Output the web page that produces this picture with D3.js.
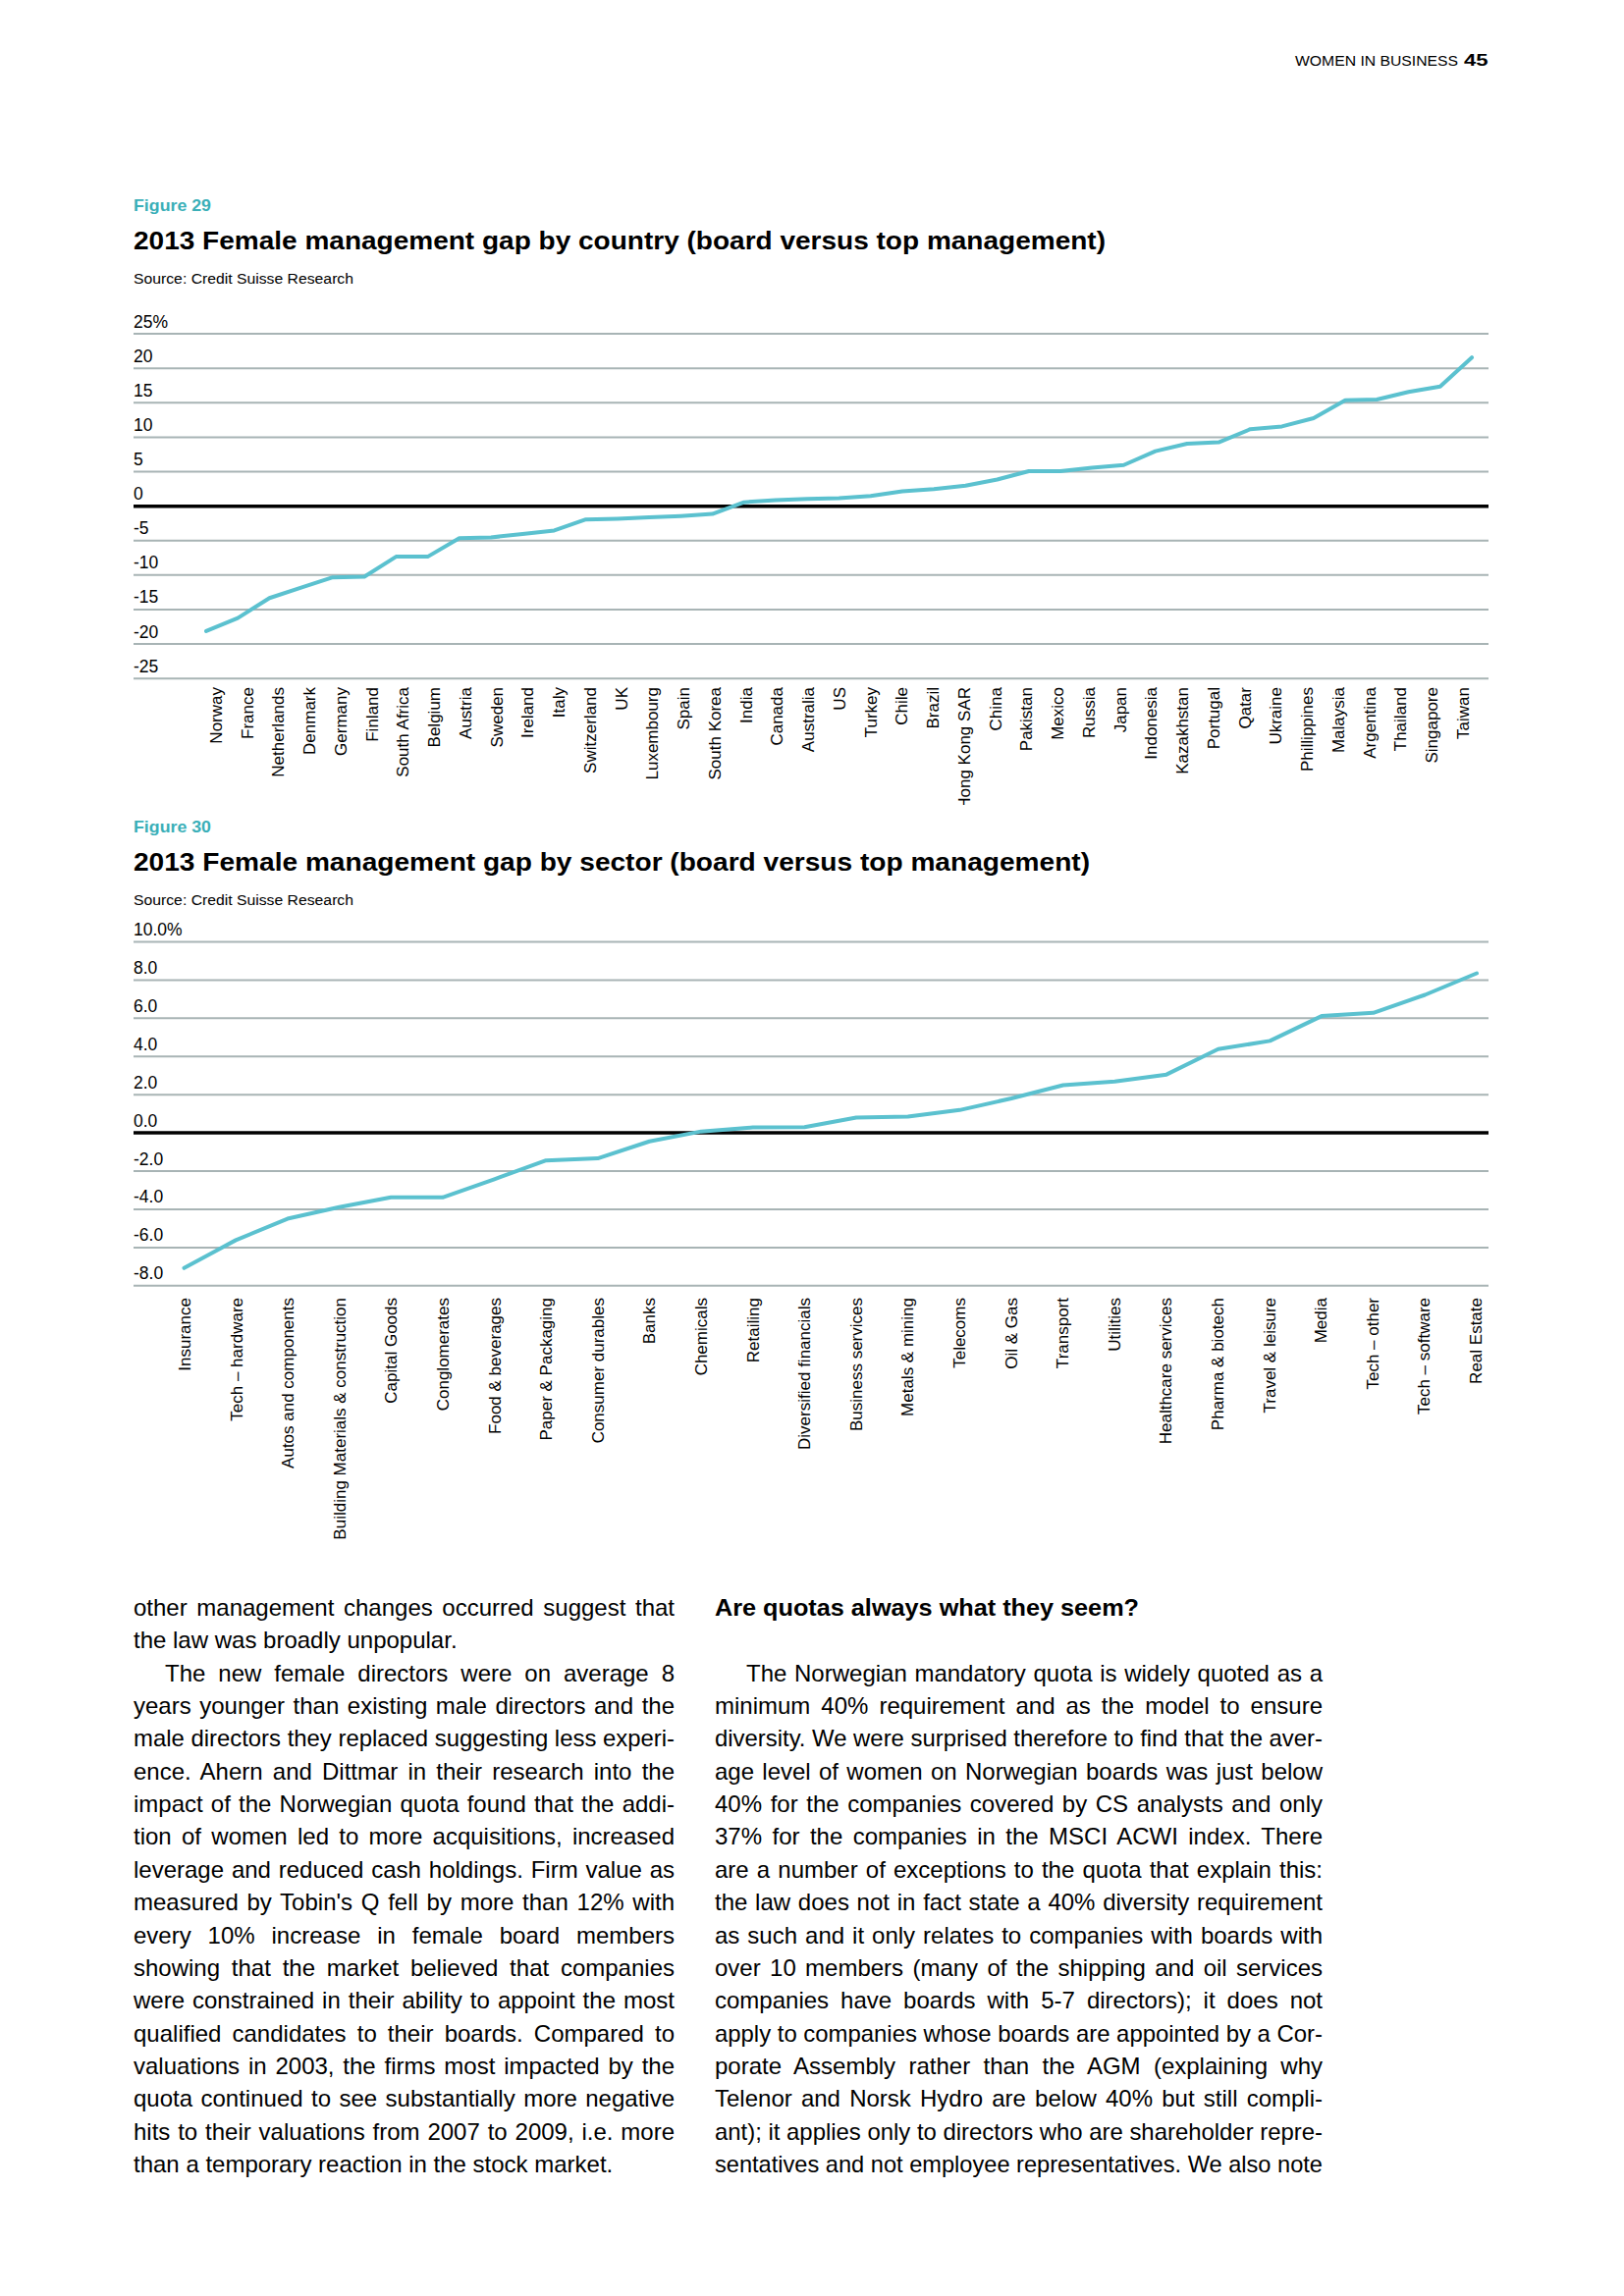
<!DOCTYPE html>
<html>
<head>
<meta charset="utf-8">
<script src="https://cdn.jsdelivr.net/npm/d3@7"></script>
<style>
  body { margin: 0; background: #fff; }
  svg { display: block; }
</style>
</head>
<body>
<svg id="page" width="1654" height="2339"></svg>
<script>
/* DATA - FIGURE 29 */
const countries = ["Norway", "France", "Netherlands", "Denmark", "Germany", "Finland", "South Africa",
  "Belgium", "Austria", "Sweden", "Ireland", "Italy", "Switzerland", "UK", "Luxembourg", "Spain",
  "South Korea", "India", "Canada", "Australia", "US", "Turkey", "Chile", "Brazil", "Hong Kong SAR",
  "China", "Pakistan", "Mexico", "Russia", "Japan", "Indonesia", "Kazakhstan", "Portugal", "Qatar",
  "Ukraine", "Phillippines", "Malaysia", "Argentina", "Thailand", "Singapore", "Taiwan"];
const countryGap = [-18.2, -16.3, -13.4, -11.9, -10.4, -10.3, -7.4, -7.4, -4.7, -4.6, -4.1, -3.6,
  -2.0, -1.9, -1.7, -1.5, -1.2, 0.5, 0.8, 1.0, 1.1, 1.4, 2.1, 2.4, 2.9, 3.8, 5.0, 5.0, 5.5, 5.9,
  7.9, 9.0, 9.2, 11.1, 11.5, 12.7, 15.3, 15.4, 16.5, 17.3, 21.5];
const countryTicks = [25, 20, 15, 10, 5, 0, -5, -10, -15, -20, -25];
const countryTickLabels = ["25%", "20", "15", "10", "5", "0", "-5", "-10", "-15", "-20", "-25"];

/* DATA - FIGURE 30 */
const sectors = ["Insurance", "Tech \u2013 hardware", "Autos and components",
  "Building Materials & construction", "Capital Goods", "Conglomerates", "Food & beverages",
  "Paper & Packaging", "Consumer durables", "Banks", "Chemicals", "Retailing",
  "Diversified financials", "Business services", "Metals & mining", "Telecoms", "Oil & Gas",
  "Transport", "Utilities", "Healthcare services", "Pharma & biotech", "Travel & leisure",
  "Media", "Tech \u2013 other", "Tech \u2013 software", "Real Estate"];
const sectorGap = [-7.1, -5.64, -4.52, -3.91, -3.4, -3.4, -2.45, -1.47, -1.36, -0.47, 0.05, 0.26,
  0.28, 0.78, 0.83, 1.17, 1.78, 2.47, 2.67, 3.03, 4.36, 4.79, 6.09, 6.26, 7.2, 8.33];
const sectorTicks = [10, 8, 6, 4, 2, 0, -2, -4, -6, -8];
const sectorTickLabels = ["10.0%", "8.0", "6.0", "4.0", "2.0", "0.0", "-2.0", "-4.0", "-6.0", "-8.0"];

/* BODY TEXT */
const col1Lines = [
  "other management changes occurred suggest that",
  "the law was broadly unpopular.",
  "The new female directors were on average 8",
  "years younger than existing male directors and the",
  "male directors they replaced suggesting less experi-",
  "ence. Ahern and Dittmar in their research into the",
  "impact of the Norwegian quota found that the addi-",
  "tion of women led to more acquisitions, increased",
  "leverage and reduced cash holdings. Firm value as",
  "measured by Tobin's Q fell by more than 12% with",
  "every 10% increase in female board members",
  "showing that the market believed that companies",
  "were constrained in their ability to appoint the most",
  "qualified candidates to their boards. Compared to",
  "valuations in 2003, the firms most impacted by the",
  "quota continued to see substantially more negative",
  "hits to their valuations from 2007 to 2009, i.e. more",
  "than a temporary reaction in the stock market."
];
const col2Heading = "Are quotas always what they seem?";
const col2Lines = [
  "The Norwegian mandatory quota is widely quoted as a",
  "minimum 40% requirement and as the model to ensure",
  "diversity. We were surprised therefore to find that the aver-",
  "age level of women on Norwegian boards was just below",
  "40% for the companies covered by CS analysts and only",
  "37% for the companies in the MSCI ACWI index. There",
  "are a number of exceptions to the quota that explain this:",
  "the law does not in fact state a 40% diversity requirement",
  "as such and it only relates to companies with boards with",
  "over 10 members (many of the shipping and oil services",
  "companies have boards with 5-7 directors); it does not",
  "apply to companies whose boards are appointed by a Cor-",
  "porate Assembly rather than the AGM (explaining why",
  "Telenor and Norsk Hydro are below 40% but still compli-",
  "ant); it applies only to directors who are shareholder repre-",
  "sentatives and not employee representatives. We also note"
];

/* CONSTANTS */
const FONT = "'Liberation Sans', Arial, Helvetica, sans-serif";
const TEAL = "#3aafb8";
const LINE = "#5bc1cf";
const GRID = "#a8b4b5";
const left = 136, right = 1516;

const svg = d3.select("#page").attr("font-family", FONT);

/* PAGE HEADER */
svg.append("text").attr("x", 1319).attr("y", 66.5)
  .attr("font-size", 14.5).attr("textLength", 166).attr("lengthAdjust", "spacingAndGlyphs")
  .text("WOMEN IN BUSINESS");
svg.append("text").attr("x", 1491).attr("y", 66.5)
  .attr("font-size", 17).attr("font-weight", "bold").attr("textLength", 24.5)
  .attr("lengthAdjust", "spacingAndGlyphs").text("45");

/* CHART DRAWER */
function drawChart(o) {
  const g = svg.append("g");

  g.append("text").attr("x", left).attr("y", o.figY)
    .attr("font-size", 16.5).attr("font-weight", "bold").attr("fill", TEAL)
    .attr("textLength", 79).attr("lengthAdjust", "spacingAndGlyphs")
    .text(o.figure);
  g.append("text").attr("x", left).attr("y", o.figY + 38.5)
    .attr("font-size", 26.5).attr("font-weight", "bold")
    .attr("textLength", o.titleLen).attr("lengthAdjust", "spacingAndGlyphs")
    .text(o.title);
  g.append("text").attr("x", left).attr("y", o.figY + 74)
    .attr("font-size", 15.5)
    .attr("textLength", 224).attr("lengthAdjust", "spacingAndGlyphs")
    .text("Source: Credit Suisse Research");

  const x = d3.scalePoint().domain(o.cats).range(o.xRange);
  const xl = d3.scalePoint().domain(o.cats).range(o.labelRange);
  const y = d3.scaleLinear().domain(o.yDomain).range(o.yRange);

  /* GRIDLINES AND TICK LABELS */
  const axis = d3.axisRight(y)
    .tickValues(o.ticks)
    .tickSize(right - left)
    .tickFormat((d, i) => o.tickLabels[i]);

  g.append("g")
    .attr("transform", "translate(" + left + ",0)")
    .call(axis)
    .call(a => a.select(".domain").remove())
    .call(a => a.selectAll(".tick line")
      .attr("stroke", d => d === 0 ? "#000" : GRID)
      .attr("stroke-width", d => d === 0 ? 3.5 : 2))
    .call(a => a.selectAll(".tick text")
      .attr("x", 0).attr("dy", -6.5)
      .attr("text-anchor", "start")
      .attr("fill", "#000")
      .attr("font-family", FONT)
      .attr("font-size", 17.5));

  /* LINE */
  const line = d3.line()
    .x((d, i) => x(o.cats[i]))
    .y(d => y(d));
  g.append("path")
    .datum(o.values)
    .attr("fill", "none")
    .attr("stroke", LINE)
    .attr("stroke-width", 4)
    .attr("stroke-linejoin", "round")
    .attr("stroke-linecap", "round")
    .attr("d", line);

  /* CATEGORY LABELS */
  const clipId = "clip" + o.figure.replace(/\s/g, "");
  svg.append("clipPath").attr("id", clipId)
    .append("rect").attr("x", 0).attr("y", o.labelTop - 10)
    .attr("width", 1654).attr("height", o.labelClip - o.labelTop + 10);

  g.append("g").attr("clip-path", "url(#" + clipId + ")")
    .selectAll("text")
    .data(o.cats)
    .join("text")
    .attr("transform", d => "translate(" + xl(d) + "," + o.labelTop + ") rotate(-90)")
    .attr("dy", "0.35em")
    .attr("text-anchor", "end")
    .attr("font-size", 17)
    .text(d => d);
}

drawChart({
  figure: "Figure 29",
  figY: 215,
  title: "2013 Female management gap by country (board versus top management)",
  titleLen: 990,
  cats: countries,
  values: countryGap,
  xRange: [210, 1499],
  labelRange: [220, 1490],
  yDomain: [-25, 25],
  yRange: [690.7, 339.6],
  ticks: countryTicks,
  tickLabels: countryTickLabels,
  labelTop: 700,
  labelClip: 820
});

drawChart({
  figure: "Figure 30",
  figY: 848,
  title: "2013 Female management gap by sector (board versus top management)",
  titleLen: 974,
  cats: sectors,
  values: sectorGap,
  xRange: [187.5, 1504],
  labelRange: [188, 1503],
  yDomain: [-8, 10],
  yRange: [1309.3, 959],
  ticks: sectorTicks,
  tickLabels: sectorTickLabels,
  labelTop: 1322,
  labelClip: 1700
});

/* BODY TEXT, JUSTIFIED LINE BY LINE */
const lineY = d3.scaleLinear().domain([0, 17]).range([1646, 2213]);
const BODY = 24;

function setLine(x, row, str, width, justify, bold) {
  const t = svg.append("text")
    .attr("x", x).attr("y", lineY(row))
    .attr("font-size", BODY)
    .attr("font-weight", bold ? "bold" : "normal")
    .text(str);
  if (bold && width) {
    t.attr("textLength", width).attr("lengthAdjust", "spacingAndGlyphs");
    return;
  }
  if (!justify) return;
  const w = t.node().getComputedTextLength();
  const gaps = (str.match(/ /g) || []).length;
  if (w < width && gaps) {
    t.style("word-spacing", ((width - w) / gaps) + "px");
  } else if (w > width) {
    t.attr("textLength", width).attr("lengthAdjust", "spacingAndGlyphs");
  }
}

const c1x = 136, c1w = 551, c2x = 728, c2w = 619, indent = 32;
col1Lines.forEach((s, i) => {
  const ind = i === 2 ? indent : 0;
  setLine(c1x + ind, i, s, c1w - ind, i !== 1 && i !== col1Lines.length - 1, false);
});
setLine(c2x, 0, col2Heading, 432, false, true);
col2Lines.forEach((s, i) => {
  const ind = i === 0 ? indent : 0;
  setLine(c2x + ind, i + 2, s, c2w - ind, true, false);
});
</script>
</body>
</html>
